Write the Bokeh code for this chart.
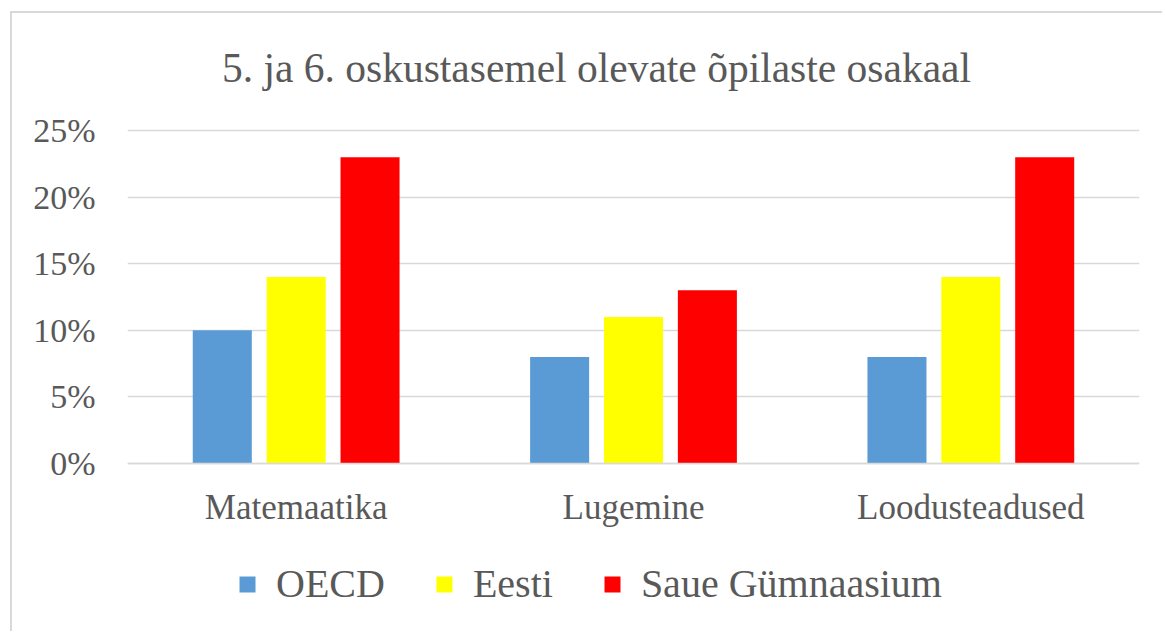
from bokeh.plotting import figure
from bokeh.models import (ColumnDataSource, FixedTicker, NumeralTickFormatter,
                          Legend, LegendItem, Label)
from bokeh.transform import dodge
from bokeh.embed import file_html
from bokeh.resources import INLINE

title_text = "5. ja 6. oskustasemel olevate õpilaste osakaal"
categories = ["Matemaatika", "Lugemine", "Loodusteadused"]
series_names = ["OECD", "Eesti", "Saue Gümnaasium"]
oecd = [0.10, 0.08, 0.08]
eesti = [0.14, 0.11, 0.14]
saue = [0.23, 0.13, 0.23]
y_ticks = [0, 0.05, 0.10, 0.15, 0.20, 0.25]
colors = ["#5B9BD5", "#FFFF00", "#FF0000"]

FONT = "Liberation Serif"
TXT = "#595959"
GRID = "#d9d9d9"

src = ColumnDataSource(dict(cat=categories, oecd=oecd, eesti=eesti, saue=saue))

# frame spans the whole chart area: title, labels and legend live inside it
p = figure(x_range=categories, y_range=(-0.117868, 0.337838), width=1152, height=620,
           output_backend="svg", toolbar_location=None,
           min_border_left=115, min_border_top=0, min_border_right=25,
           min_border_bottom=13, outline_line_color=None)
p.styles = {"margin-left": "12px", "margin-top": "13px",
            "box-shadow": "-2px -2px 0 0 #d9d9d9"}

fields = ["oecd", "eesti", "saue"]
offsets = [-0.219, 0.0, 0.219]
renderers = []
for f, off, c in zip(fields, offsets, colors):
    r = p.vbar(x=dodge("cat", off, range=p.x_range), top=f, width=0.175,
               source=src, fill_color=c, line_color=None)
    renderers.append(r)

p.add_layout(Label(x=1.3903, y=0.2968, text=title_text, text_align="center",
                   text_baseline="alphabetic", text_font=FONT,
                   text_font_size="41.5px", text_color=TXT))

p.yaxis.ticker = FixedTicker(ticks=y_ticks)
p.yaxis.formatter = NumeralTickFormatter(format="0%")
p.yaxis.axis_line_color = None
p.yaxis.major_tick_line_color = None
p.yaxis.minor_tick_line_color = None
p.yaxis.major_label_text_font = FONT
p.yaxis.major_label_text_font_size = "34px"
p.yaxis.major_label_text_color = TXT
p.yaxis.major_label_standoff = 26

p.xaxis.fixed_location = 0
p.xaxis.axis_line_color = GRID
p.xaxis.axis_line_width = 1.5
p.xaxis.major_tick_line_color = None
p.xaxis.minor_tick_line_color = None
p.xaxis.major_label_text_font = FONT
p.xaxis.major_label_text_font_size = "35px"
p.xaxis.major_label_text_color = TXT
p.xaxis.major_label_standoff = 19

p.xgrid.grid_line_color = None
p.ygrid.grid_line_color = GRID
p.ygrid.grid_line_width = 1.5

items = [LegendItem(label=n, renderers=[r]) for n, r in zip(series_names, renderers)]
legend = Legend(items=items, orientation="horizontal", location=(110, 13),
                glyph_width=20, glyph_height=20, label_standoff=19, spacing=49,
                padding=0, margin=0, border_line_color=None,
                background_fill_alpha=0,
                label_text_font=FONT, label_text_font_size="40px",
                label_text_color=TXT)
p.add_layout(legend, "center")

open("out.html", "w").write(file_html(p, INLINE))
